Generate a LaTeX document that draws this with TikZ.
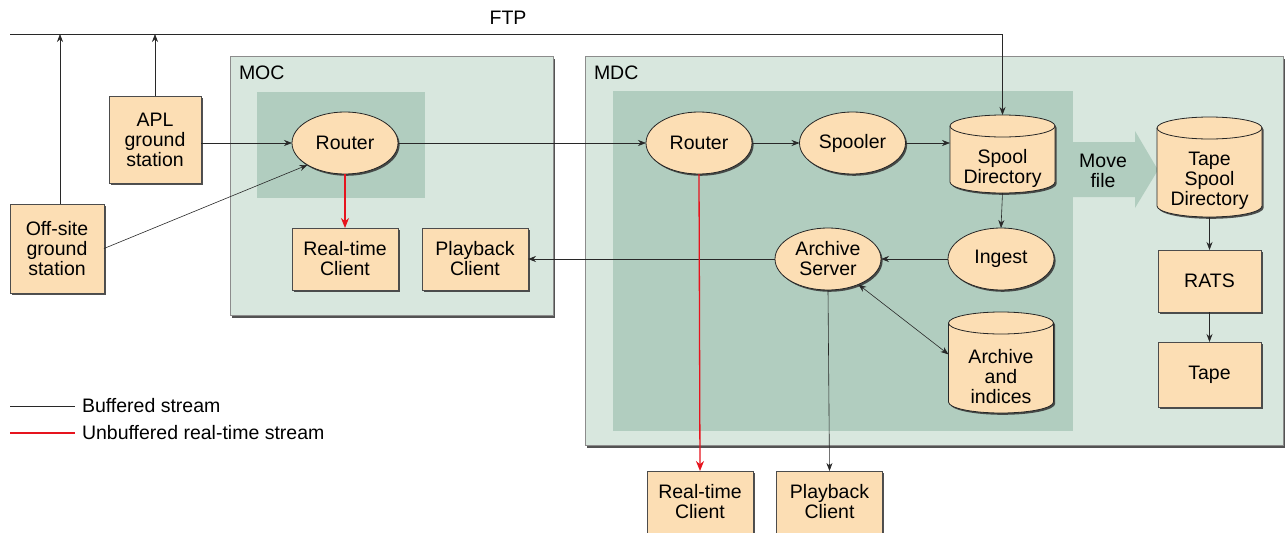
\documentclass[tikz,border=0pt]{standalone}
\usepackage{fontspec}
\setmainfont{Liberation Sans}
\usetikzlibrary{shapes.geometric,shadows,arrows.meta,calc}

\definecolor{peach}{RGB}{252,222,180}
\definecolor{outerc}{RGB}{216,231,222}
\definecolor{innerc}{RGB}{177,205,191}
\definecolor{linec}{RGB}{40,40,40}
\definecolor{redc}{RGB}{230,20,30}

% Drum outline around a store node: the node covers the front of the body,
% the lid sits above it.
\newcommand{\drum}[1]{%
  \path[draw=black!85, line width=0.8pt, fill=peach, bshadow]
    ($(#1.north west)+(0,-11)$) -- ($(#1.south west)+(0,-11)$)
    arc[start angle=180, end angle=0, x radius=52.5, y radius=11]
    -- ($(#1.north east)+(0,-11)$)
    arc[start angle=0, end angle=-180, x radius=52.5, y radius=11] -- cycle;
  \draw[black!85, line width=0.8pt] ($(#1.north west)+(0,-11)$)
    arc[start angle=180, end angle=0, x radius=52.5, y radius=11];
}

\begin{document}
\begin{tikzpicture}[x=1pt,y=-1pt,
  font=\fontsize{19.5}{20}\selectfont,
  every node/.style={inner sep=0pt, outer sep=0pt},
  bshadow/.style={drop shadow={shadow xshift=1.6pt,shadow yshift=-1.8pt,fill=black!80,opacity=0.85}},
  blk/.style={rectangle, draw=black!70, line width=0.8pt, fill=peach, align=center,
    minimum width=106pt, minimum height=62pt, bshadow},
  proc/.style={ellipse, draw=black!85, line width=0.8pt, fill=peach, align=center,
    minimum width=106pt, minimum height=62pt, bshadow},
  store/.style={rectangle, minimum width=105pt},
  storetext/.style={align=center, yshift=-3pt},
  region/.style={rectangle, draw=black!45, fill=outerc, line width=0.6pt, anchor=north west,
    drop shadow={shadow xshift=2pt,shadow yshift=-2.5pt,fill=black!75,opacity=0.9}},
  inner region/.style={rectangle, fill=innerc, anchor=north west},
  conn/.style={-{Stealth[length=8pt,width=6pt]}, draw=linec, line width=0.6pt},
  both/.style={{Stealth[length=8pt,width=6pt]}-{Stealth[length=8pt,width=6pt]}, draw=linec, line width=0.6pt},
  rtconn/.style={-{Stealth[length=10pt,width=8pt]}, draw=redc, line width=1.3pt},
  lbl/.style={anchor=west}
]
\useasboundingbox (0,0) rectangle (1286,533);

% Operations centre
\node[region, minimum width=323pt, minimum height=259pt] (moc) at (230,56) {};
\node[lbl] (moclbl) at (239,73) {MOC};
\node[inner region, minimum width=168pt, minimum height=106pt] (mocin) at (257,92) {};

% Data centre
\node[region, minimum width=698pt, minimum height=389pt] (mdc) at (585,56) {};
\node[lbl] (mdclbl) at (594,73) {MDC};
\node[inner region, minimum width=460pt, minimum height=340pt] (mdcin) at (613,91) {};

% Move-file arrow
\fill[innerc] (1073,142) -- (1135,142) -- (1135,131) -- (1158,170) -- (1135,208)
  -- (1135,197) -- (1073,197) -- cycle;
\node[align=center] (move) at (1103,171) {Move\\file};

% Ground stations
\node[blk, minimum width=92pt, minimum height=87pt] (apl) at (155,139.5) {APL\\ground\\station};
\node[blk, minimum width=94pt, minimum height=89pt] (off) at (57,248.5) {Off-site\\ground\\station};

% MOC contents
\node[proc] (mocr) at (345,143) {Router};
\node[blk] (rt1) at (345,259) {Real-time\\Client};
\node[blk] (pb1) at (475,259) {Playback\\Client};

% MDC contents
\node[proc] (mdcr) at (699,143) {Router};
\node[proc] (spool) at (852.5,143) {Spooler};
\node[store, minimum height=56pt] (sd) at (1002.5,165) {};
\drum{sd}
\node[storetext] (sdtxt) at (sd) {Spool\\Directory};
\node[proc] (ing) at (1001,259) {Ingest};
\node[proc] (arch) at (828,259) {Archive\\Server};
\node[store, minimum height=79pt] (aidx) at (1001,373.5) {};
\drum{aidx}
\node[storetext] (aidxtxt) at (aidx) {Archive\\and\\indices};
\node[store, minimum height=78pt] (tsd) at (1209.5,178) {};
\drum{tsd}
\node[storetext] (tsdtxt) at (tsd) {Tape\\Spool\\Directory};
\node[blk, minimum width=103pt] (rats) at (1209.5,281) {RATS};
\node[blk, minimum width=103pt, minimum height=65pt] (tape) at (1209.5,374.5) {Tape};

% External clients
\node[blk] (rt2) at (700,502) {Real-time\\Client};
\node[blk] (pb2) at (829.5,502) {Playback\\Client};

% FTP bus
\coordinate (ftp) at (10,34);
\coordinate (sdlid) at ($(sd.north)+(0,-22)$);
\node (ftplbl) at (508,18) {FTP};
\draw[conn] (ftp) -| (sdlid);
\draw[conn] (off.north -| 60,0) -- (ftp -| 60,0);
\draw[conn] (apl.north) -- (apl.north |- ftp);

% Buffered streams
\draw[conn] (apl.east |- mocr.west) -- (mocr.west);
\draw[conn] (off.east) -- (mocr.south west);
\draw[conn] (mocr.east) -- (mdcr.west);
\draw[conn] (mdcr.east) -- (spool.west);
\draw[conn] (spool.east) -- (spool.east -| sd.west);
\draw[conn] (sd.south) -- (ing.north);
\draw[conn] (ing.west) -- (arch.east);
\draw[conn] (arch.west) -- (pb1.east);
\draw[both] (arch.-40) -- (aidx.160);
\draw[conn] (arch.south) -- (pb2.north);
\draw[conn] (tsd.south) -- (rats.north);
\draw[conn] (rats.south) -- (tape.north);

% Unbuffered real-time streams
\draw[rtconn] (mocr.south) -- (rt1.north);
\draw[rtconn] (mdcr.south) -- (rt2.north);

% Legend
\coordinate (la) at (10,406);
\coordinate (lb) at (75,406);
\coordinate (lc) at (10,433);
\coordinate (ld) at (75,433);
\draw[draw=linec, line width=0.6pt] (la) -- (lb);
\draw[draw=redc, line width=1.3pt] (lc) -- (ld);
\node[lbl] (l1) at (82,406) {Buffered stream};
\node[lbl] (l2) at (82,433) {Unbuffered real-time stream};
\end{tikzpicture}
\end{document}
